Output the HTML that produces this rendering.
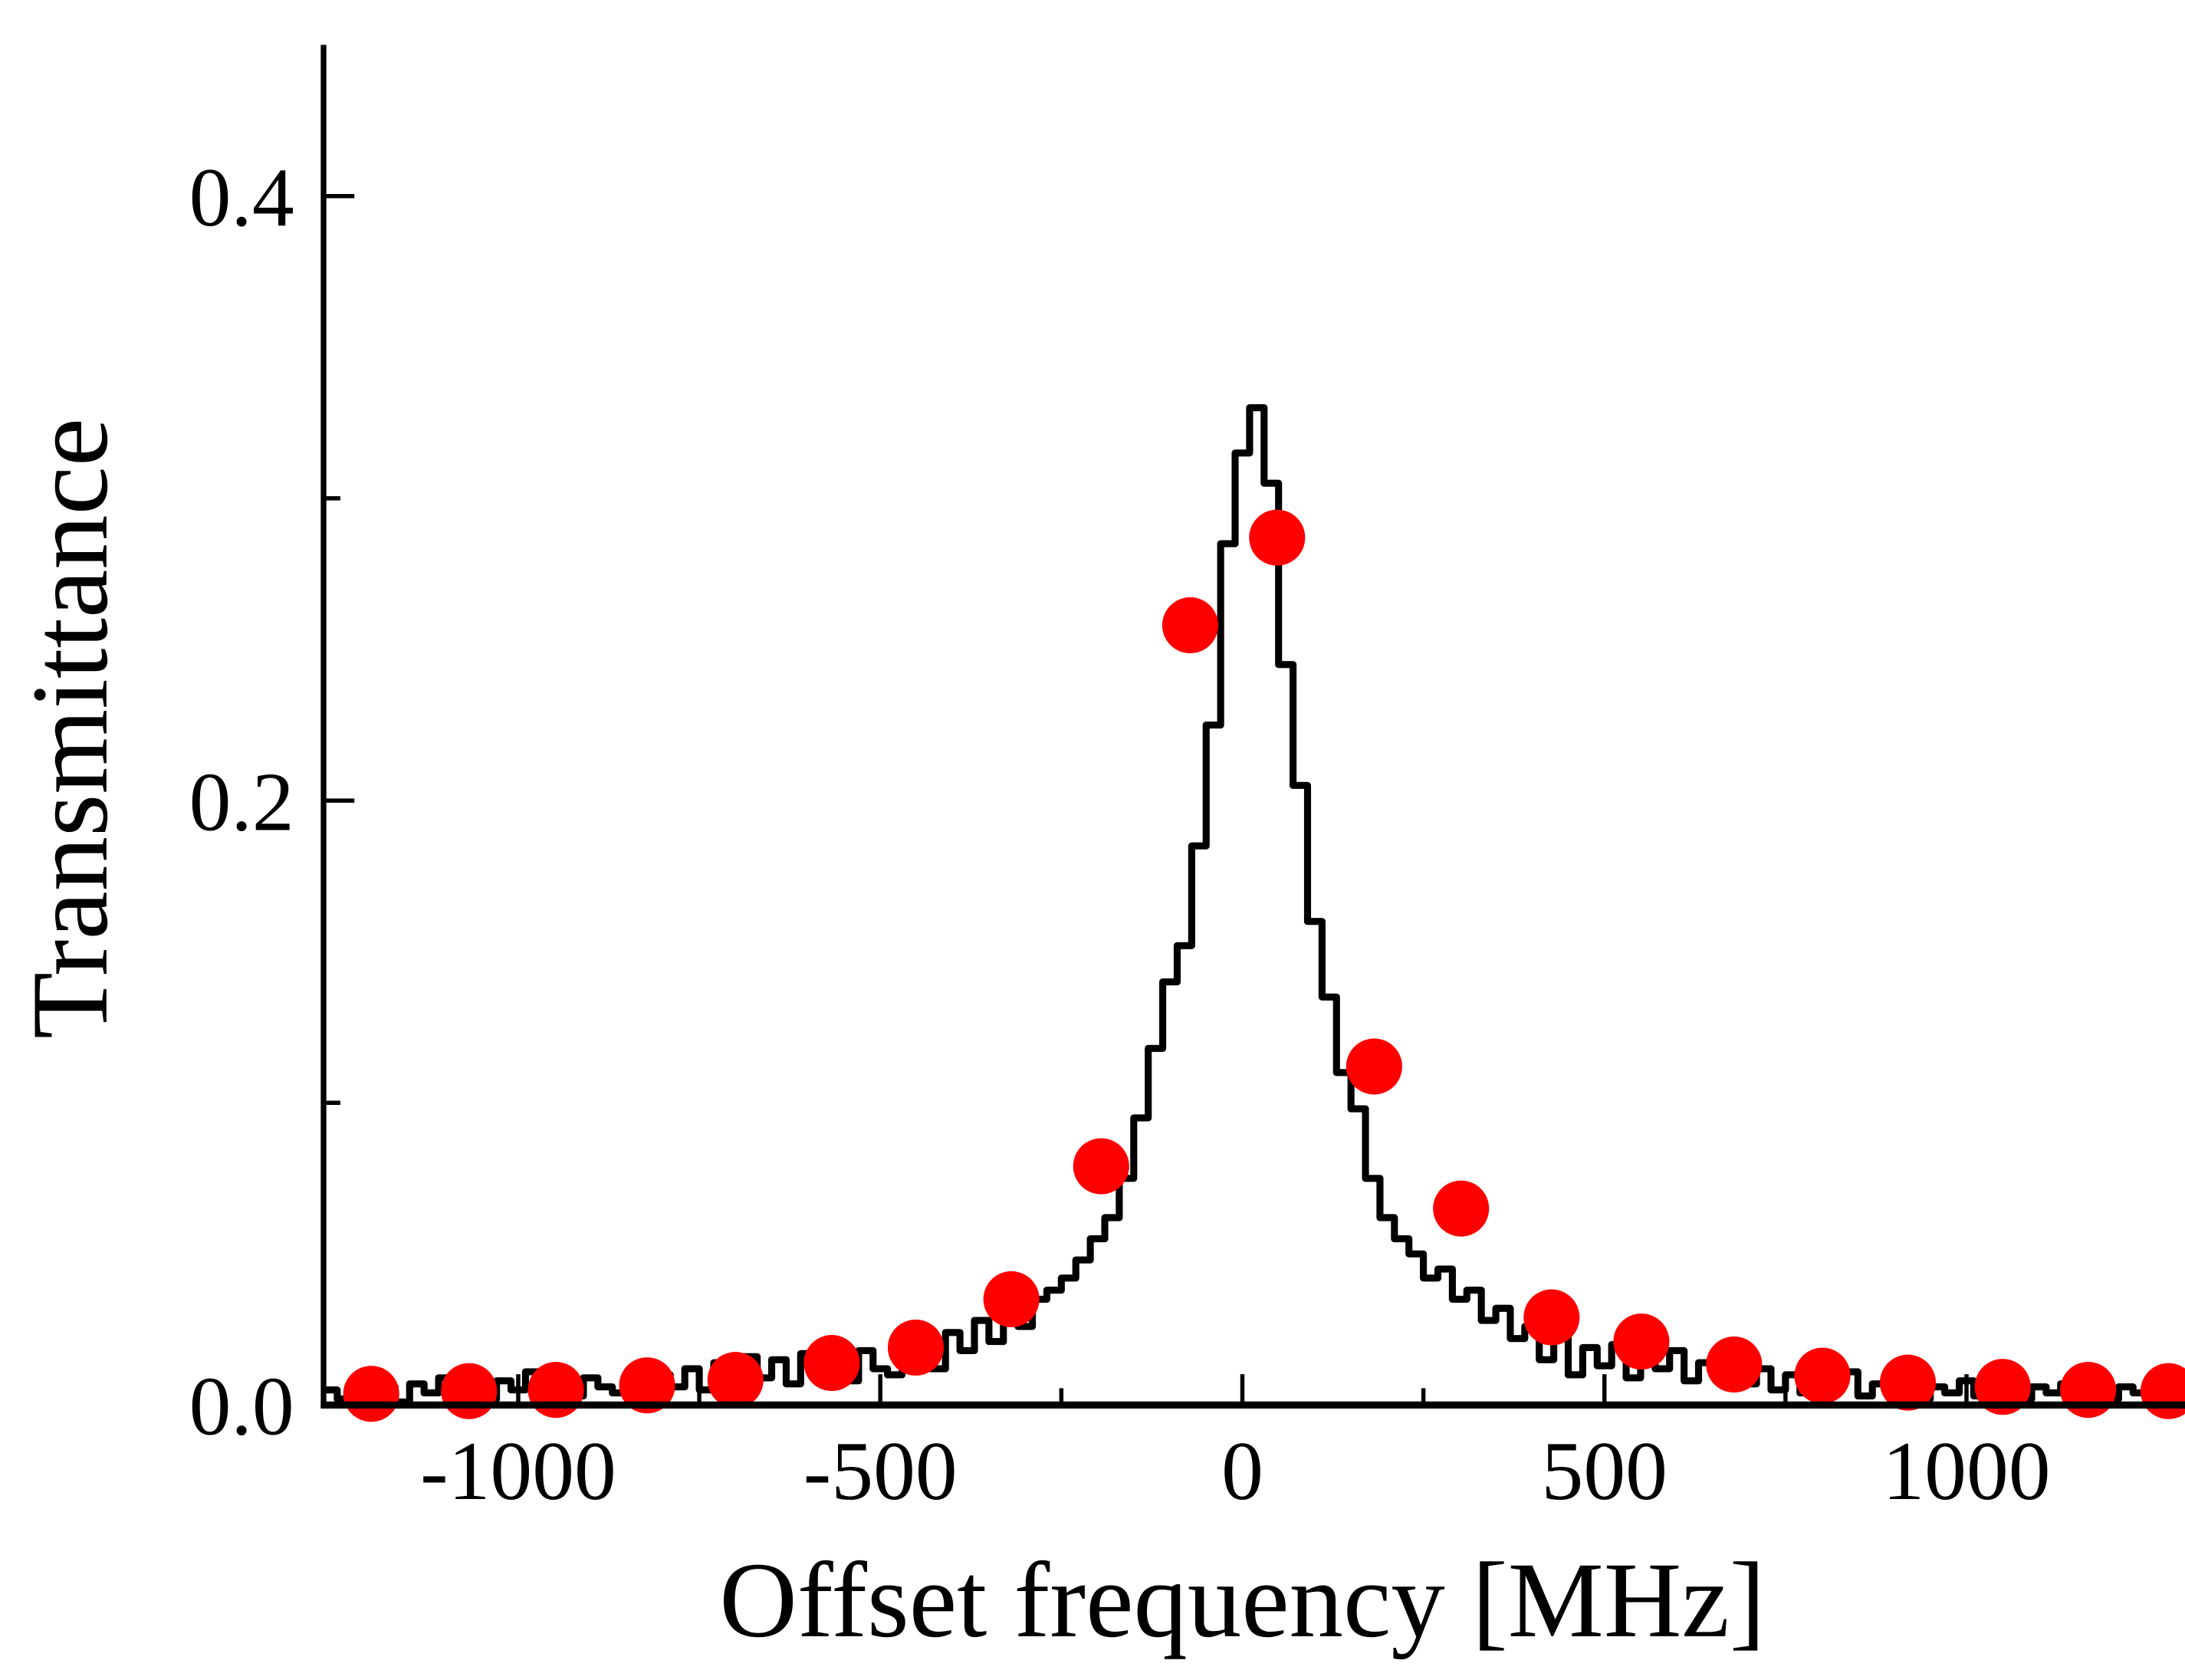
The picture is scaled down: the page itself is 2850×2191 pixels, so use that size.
<!DOCTYPE html>
<html><head><meta charset="utf-8"><style>
html,body{margin:0;padding:0;background:#fff;}
svg{display:block;}
text{font-family:"Liberation Serif",serif;fill:#000;}
</style></head><body>
<svg id="chart" width="2850" height="2191" viewBox="0 0 1560 1199.3" preserveAspectRatio="none" xmlns="http://www.w3.org/2000/svg">
<g id="plot"></g>
<g id="axes"></g>
<text x="887" y="1168" font-size="77" text-anchor="middle">Offset frequency [MHz]</text>
<text x="0" y="0" font-size="78" text-anchor="middle" transform="translate(76,520) rotate(-90)">Transmittance</text>
</svg>
<script>
const xTicks=[-1000,-500,0,500,1000];
const xTickLabels=["-1000","-500","0","500","1000"];
const xMinorTicks=[-750,-250,250,750];
const yTicks=[0,0.2,0.4];
const yTickLabels=["0.0","0.2","0.4"];
const yMinorTicks=[0.1,0.3];
const lineStart=-1270;
const lineStep=20;
const lineValues=[0.005,0.002,0.008,0.003,0.006,0.001,0.007,0.004,0.009,0.003,0.006,0.002,0.008,0.005,0.011,0.004,0.007,0.003,0.009,0.006,
0.004,0.008,0.003,0.010,0.006,0.012,0.005,0.014,0.008,0.016,
0.009,0.015,0.007,0.017,0.011,0.013,0.008,0.018,0.012,0.010,
0.016,0.022,0.012,0.024,0.018,0.028,0.021,0.031,0.026,0.035,
0.038,0.042,0.048,0.055,0.062,0.075,
0.095,0.118,0.140,0.152,0.185,0.225,0.285,0.315,
0.330,0.305,0.245,0.205,0.160,0.135,0.110,0.098,0.075,0.062,0.055,0.050,0.042,0.045,0.035,0.038,0.028,0.032,0.022,0.026,
0.015,0.022,0.010,0.019,0.013,0.020,0.009,0.017,0.012,0.018,0.008,0.014,0.010,0.016,0.007,0.012,
0.005,0.010,0.004,0.008,0.006,0.011,0.003,0.007,0.005,0.009,0.002,0.006,0.004,0.008,0.003,0.007,0.005,0.002,0.006,0.004,0.007,0.003,0.005,0.002,0.006,0.004,0.003,0.005];
const pointX=[-1203,-1068,-948,-822,-700,-567,-451,-319,-195,-72,48,182,302,427,551,679,801,919,1050,1168,1279];
const pointY=[0.0037,0.0046,0.005,0.0065,0.0083,0.0139,0.019,0.035,0.079,0.258,0.287,0.112,0.065,0.029,0.021,0.0134,0.0097,0.0074,0.006,0.005,0.0046];

const NS="http://www.w3.org/2000/svg";
const X0=231,X1=1545,Y0=1003,YT=32;
const xs=v=>887+v*0.517;
const ys=v=>1003-v*2157.5;
function mk(tag,attrs,parent){const e=document.createElementNS(NS,tag);for(const k in attrs)e.setAttribute(k,attrs[k]);parent.appendChild(e);return e;}
const plot=document.getElementById('plot'),axes=document.getElementById('axes');
const clip=mk('clipPath',{id:'cp'},plot);mk('rect',{x:X0,y:0,width:X1-X0+20,height:Y0},clip);
let d='';
lineValues.forEach((v,i)=>{const x=xs(lineStart+i*lineStep),y=ys(v);
 if(i===0)d+='M'+x+' '+y;else d+='V'+y;
 const xn=xs(lineStart+(i+1)*lineStep);d+='H'+xn;});
const line=mk('path',{d:d,fill:'none',stroke:'#000','stroke-width':5,'stroke-linejoin':'round','clip-path':'url(#cp)'},plot);


pointX.forEach((px,i)=>{const c=mk('circle',{cx:xs(px),cy:ys(pointY[i]),r:20,fill:'#ff0000'},plot);
 
 });
const ya=mk('line',{x1:X0,y1:YT,x2:X0,y2:Y0+2,stroke:'#000','stroke-width':4},axes);


const xa=mk('line',{x1:X0-2,y1:Y0,x2:X1+15,y2:Y0,stroke:'#000','stroke-width':5},axes);


yTicks.forEach((v,i)=>{mk('line',{x1:X0,y1:ys(v),x2:X0+22,y2:ys(v),stroke:'#000','stroke-width':3},axes);
 const t=mk('text',{x:210,y:ys(v)+21,'font-size':60,'text-anchor':'end'},axes);t.textContent=yTickLabels[i];
 
 });
yMinorTicks.forEach(v=>{mk('line',{x1:X0,y1:ys(v),x2:X0+12,y2:ys(v),stroke:'#000','stroke-width':3},axes);});
xTicks.forEach((v,i)=>{mk('line',{x1:xs(v),y1:Y0,x2:xs(v),y2:Y0-22,stroke:'#000','stroke-width':3},axes);
 const t=mk('text',{x:xs(v),y:1070,'font-size':60,'text-anchor':'middle'},axes);t.textContent=xTickLabels[i];
 
 });
xMinorTicks.forEach(v=>{mk('line',{x1:xs(v),y1:Y0,x2:xs(v),y2:Y0-12,stroke:'#000','stroke-width':3},axes);});
</script>
</body></html>
